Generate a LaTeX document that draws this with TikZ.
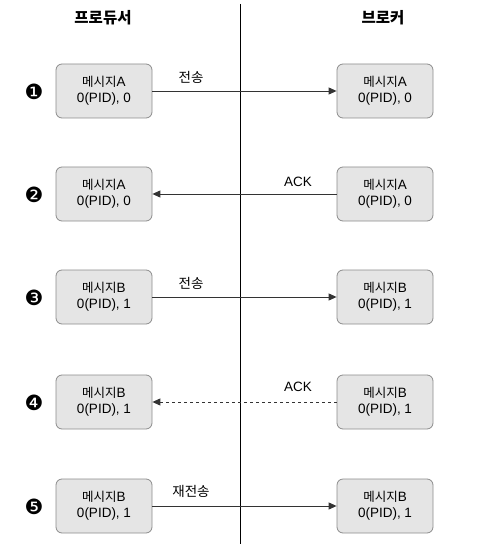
\documentclass[tikz,border=0pt]{standalone}
\usepackage{fontspec}
\setmainfont{Liberation Sans}
\newfontfamily\kr{Noto Sans CJK KR}
\newfontfamily\dings{DejaVu Sans}
\usetikzlibrary{arrows.meta}
\begin{document}
\begin{tikzpicture}[x=1pt,y=-1pt,
  msg/.style={draw=black!45,fill=black!10,rounded corners=6pt,minimum width=96pt,minimum height=54pt,
    align=center,font=\fontsize{13.5}{16}\selectfont,line width=0.8pt},
  title/.style={font=\kr\bfseries\fontsize{15.5}{18}\selectfont},
  lbl/.style={font=\fontsize{13.5}{15}\selectfont},
  num/.style={font=\dings\fontsize{21}{21}\selectfont},
  flow/.style={draw=black!80,line width=0.9pt,-{Triangle[length=8pt,width=7pt]}}]
\useasboundingbox (0,0) rectangle (479,548);
\node[title] (tp) at (103,18) {프로듀서};
\node[title] (tb) at (383,18) {브로커};
\coordinate (top) at (240,4);
\coordinate (bot) at (240,544);
\draw[line width=0.8pt] (top) -- (bot);
% five exchanges, top to bottom
\foreach \i/\y/\m/\n in {1/91/A/0,2/194/A/0,3/297/B/1,4/402/B/1,5/506/B/1}{
  \node[msg] (p\i) at (104,\y) {{\kr\fontsize{12.5}{16}\selectfont 메시지}\m\\0(PID), \n};
  \node[msg] (b\i) at (385,\y) {{\kr\fontsize{12.5}{16}\selectfont 메시지}\m\\0(PID), \n};
}
\node[num] (n1) at (34,92) {❶};
\node[num] (n2) at (34,195) {❷};
\node[num] (n3) at (34,298) {❸};
\node[num] (n4) at (34,403) {❹};
\node[num] (n5) at (34,507) {❺};
\draw[flow] (p1) -- (b1);
\draw[flow] (b2) -- (p2);
\draw[flow] (p3) -- (b3);
\draw[flow,dashed,dash pattern=on 3pt off 3pt] (b4) -- (p4);
\draw[flow] (p5) -- (b5);
\node[lbl] (l1) at (191,77) {\kr 전송};
\node[lbl] (l2) at (298,182) {ACK};
\node[lbl] (l3) at (191,283) {\kr 전송};
\node[lbl] (l4) at (298,387) {ACK};
\node[lbl] (l5) at (191,491) {\kr 재전송};
\end{tikzpicture}
\end{document}
